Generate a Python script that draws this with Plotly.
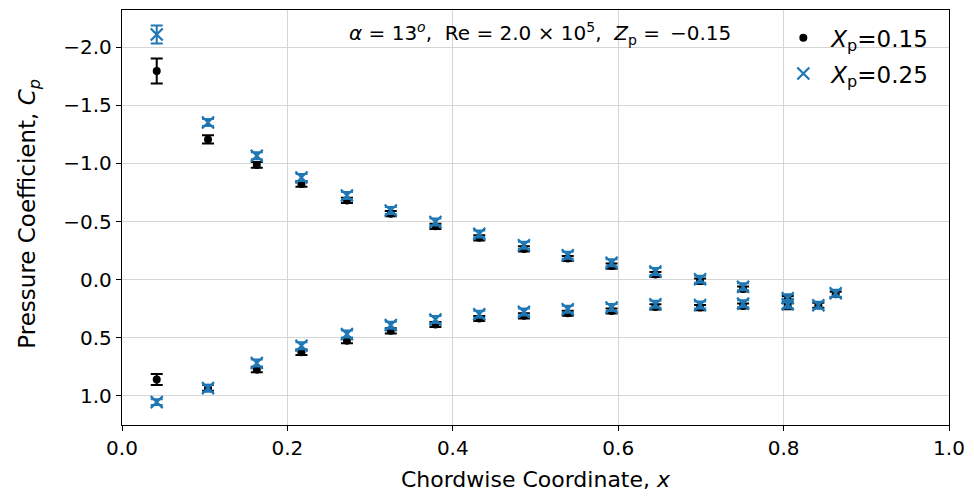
import plotly.graph_objects as go

# Pressure tap chordwise positions
x_upper = [0.042, 0.104, 0.163, 0.217, 0.272, 0.325, 0.379, 0.432, 0.486,
           0.539, 0.592, 0.645, 0.699, 0.751, 0.805]
x_lower = [0.042, 0.104, 0.163, 0.217, 0.272, 0.325, 0.379, 0.432, 0.486,
           0.539, 0.592, 0.645, 0.699, 0.751, 0.805, 0.842, 0.863]

# Xp = 0.15
cp15_upper = [-1.795, -1.207, -0.987, -0.824, -0.682, -0.568, -0.459, -0.360,
              -0.265, -0.182, -0.117, -0.045, 0.012, 0.080, 0.170]
err15_upper = [0.107, 0.035, 0.025, 0.025, 0.022, 0.022, 0.022, 0.022,
               0.022, 0.022, 0.022, 0.022, 0.022, 0.022, 0.030]
cp15_lower = [0.859, 0.930, 0.774, 0.625, 0.525, 0.440, 0.385, 0.334, 0.311,
              0.289, 0.269, 0.234, 0.240, 0.226, 0.225, 0.220, 0.126]
err15_lower = [0.047, 0.025, 0.022, 0.022, 0.022, 0.022, 0.022, 0.022, 0.022,
               0.022, 0.022, 0.022, 0.022, 0.022, 0.030, 0.022, 0.022]

# Xp = 0.25
cp25_upper = [-2.109, -1.353, -1.067, -0.879, -0.725, -0.596, -0.497, -0.394,
              -0.296, -0.211, -0.146, -0.070, -0.003, 0.060, 0.160]
err25_upper = [0.078, 0.030, 0.030, 0.030, 0.030, 0.030, 0.030, 0.030,
               0.030, 0.030, 0.030, 0.030, 0.030, 0.030, 0.035]
cp25_lower = [1.053, 0.933, 0.717, 0.568, 0.468, 0.391, 0.342, 0.297, 0.277,
              0.254, 0.240, 0.211, 0.217, 0.206, 0.210, 0.220, 0.117]
err25_lower = [0.025, 0.030, 0.030, 0.030, 0.030, 0.030, 0.030, 0.030, 0.030,
               0.030, 0.030, 0.030, 0.030, 0.030, 0.035, 0.030, 0.030]

y_ticks = [-2.0, -1.5, -1.0, -0.5, 0.0, 0.5, 1.0]
y_ticklabels = ["\u22122.0", "\u22121.5", "\u22121.0", "\u22120.5", "0.0", "0.5", "1.0"]
x_ticks = [0.0, 0.2, 0.4, 0.6, 0.8, 1.0]
x_ticklabels = ["0.0", "0.2", "0.4", "0.6", "0.8", "1.0"]

BLUE = "#1f77b4"
FONT = "DejaVu Sans"

fig = go.Figure()

fig.add_trace(go.Scatter(
    x=x_upper + x_lower,
    y=cp15_upper + cp15_lower,
    mode="markers",
    name="<i>X</i><sub>p</sub>=0.15",
    legendgroup="a",
    marker=dict(symbol="circle", size=8, color="black"),
    error_y=dict(type="data", array=err15_upper + err15_lower,
                 color="black", thickness=2, width=6),
))

fig.add_trace(go.Scatter(
    x=x_upper + x_lower,
    y=cp25_upper + cp25_lower,
    mode="markers",
    name="<i>X</i><sub>p</sub>=0.25",
    legendgroup="b",
    marker=dict(symbol="x-thin", size=12, color=BLUE,
                line=dict(color=BLUE, width=2.2)),
    error_y=dict(type="data", array=err25_upper + err25_lower,
                 color=BLUE, thickness=2, width=6),
))

# Flow conditions
fig.add_annotation(
    x=0.5, y=1.0, xref="paper", yref="paper",
    xanchor="center", yanchor="top", yshift=-7, xshift=4,
    text="<i>\u03b1</i> = 13<sup><i>o</i></sup>,  Re = 2.0 \u00d7 10<sup>5</sup>,  "
         "<i>Z</i><sub>p</sub> =\u2002\u22120.15",
    showarrow=False,
    font=dict(family=FONT, size=20, color="black"),
)

# Y-axis label, placed as a rotated annotation left of the tick labels
fig.add_annotation(
    x=-0.112, y=0.51, xref="paper", yref="paper",
    xanchor="center", yanchor="middle", textangle=-90,
    text="Pressure Coefficient, <i>C<sub>p</sub></i>",
    showarrow=False,
    font=dict(family=FONT, size=23, color="black"),
)

axis_common = dict(
    showline=True, linecolor="black", linewidth=1.3, mirror=True,
    ticks="outside", ticklen=5, tickwidth=1.2, tickcolor="black",
    showgrid=True, gridcolor="#d5d5d5", gridwidth=1,
    zeroline=False,
    tickfont=dict(family=FONT, size=20, color="black"),
)

fig.update_xaxes(
    range=[0, 1], tickvals=x_ticks, ticktext=x_ticklabels,
    title=dict(text="Chordwise Coordinate, <i>x</i>",
               font=dict(family=FONT, size=22, color="black"), standoff=12),
    **axis_common,
)
fig.update_yaxes(
    range=[1.25, -2.32], tickvals=y_ticks, ticktext=y_ticklabels,
    **axis_common,
)

fig.update_layout(
    width=974, height=497,
    margin=dict(l=122, r=21, t=9, b=71),
    paper_bgcolor="white", plot_bgcolor="white",
    font=dict(family=FONT, color="black"),
    showlegend=True,
    legend=dict(
        x=0.79, y=0.985, xanchor="left", yanchor="top",
        bgcolor="rgba(0,0,0,0)", borderwidth=0,
        font=dict(family=FONT, size=23, color="black"),
        tracegroupgap=3, itemwidth=46,
    ),
)

fig.write_html("out.html")
